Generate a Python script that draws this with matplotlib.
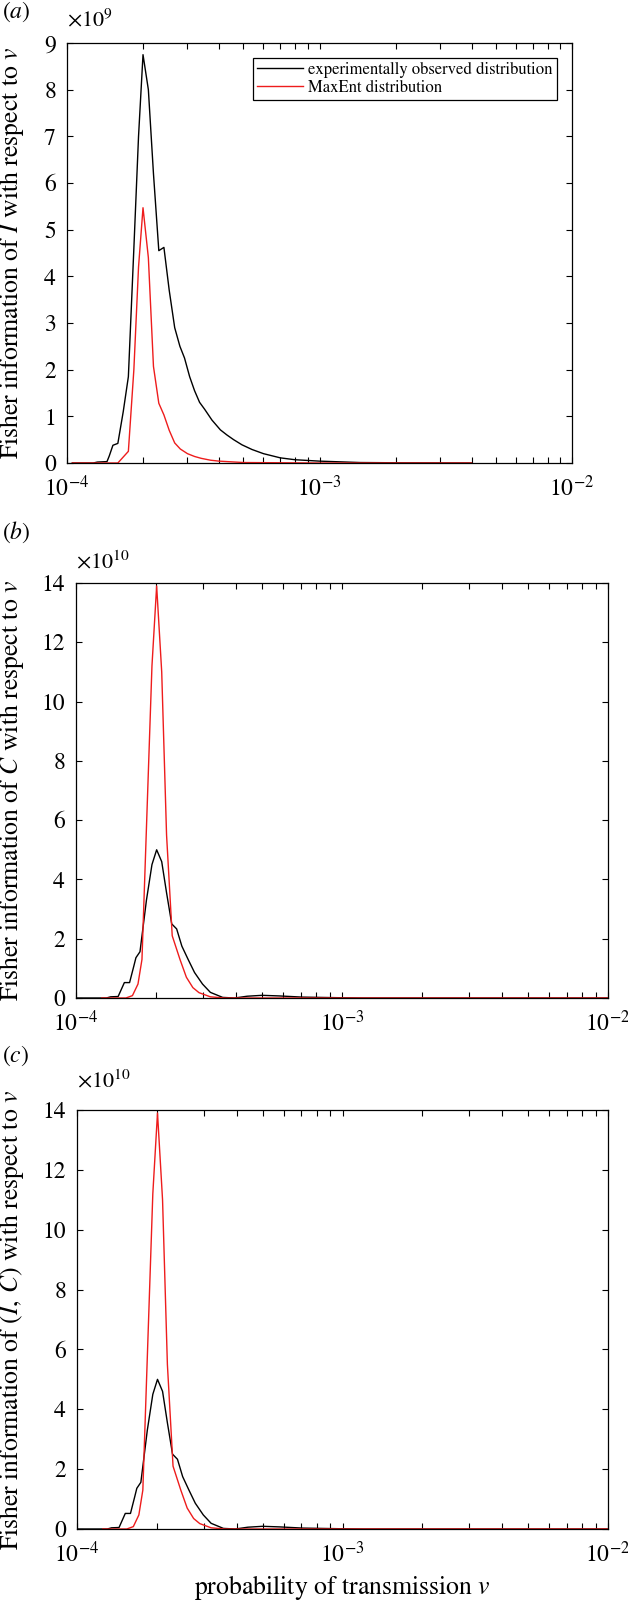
import numpy as np
import matplotlib
matplotlib.use("Agg")
import matplotlib.pyplot as plt
from matplotlib.ticker import LogLocator, LogFormatterMathtext, NullFormatter, MultipleLocator

plt.rcParams['font.family'] = ['STIXGeneral', 'DejaVu Serif']
plt.rcParams['mathtext.fontset'] = 'stix'

# ---------------- data ----------------
# v given in units of 1e-4 ; Fisher information in units of the axis multiplier
# Panel (a): Fisher information of I (x 1e9)
a_obs_v = [1.05, 1.27, 1.32, 1.44, 1.47, 1.52, 1.59, 1.67, 1.75, 1.84, 1.92, 2.0, 2.1, 2.2,
           2.31, 2.42, 2.54, 2.67, 2.8, 2.92, 3.06, 3.2, 3.35, 3.51, 3.75, 4.05, 4.3, 4.57,
           4.93, 5.4, 6.0, 7.0, 8.0, 10.0, 14.5, 20.0, 40.0]
a_obs_val = [0.0, 0.0, 0.02, 0.03, 0.15, 0.38, 0.42, 1.1, 1.85, 4.6, 7.0, 8.75, 8.0, 6.2,
             4.55, 4.62, 3.7, 2.9, 2.5, 2.25, 1.85, 1.55, 1.3, 1.15, 0.92, 0.71, 0.6, 0.5,
             0.39, 0.29, 0.2, 0.11, 0.07, 0.04, 0.01, 0.005, 0.0]
a_me_v = [1.05, 1.59, 1.75, 1.84, 1.92, 2.0, 2.1, 2.2, 2.31, 2.42, 2.54, 2.67, 2.81, 3.0,
          3.2, 3.4, 3.7, 4.0, 5.0, 10.0, 40.0]
a_me_val = [0.0, 0.0, 0.25, 2.0, 4.2, 5.47, 4.4, 2.07, 1.28, 1.03, 0.7, 0.43, 0.3, 0.2,
            0.14, 0.1, 0.06, 0.04, 0.01, 0.0, 0.0]

# Panel (b): Fisher information of C (x 1e10)
b_obs_v = [1.0, 1.3, 1.35, 1.44, 1.52, 1.59, 1.65, 1.68, 1.74, 1.84, 1.93, 2.01, 2.1, 2.19,
           2.29, 2.39, 2.5, 2.64, 2.79, 2.99, 3.2, 3.56, 3.95, 4.4, 5.0, 5.8, 7.1, 9.7, 12.0, 100.0]
b_obs_val = [0.0, 0.0, 0.04, 0.05, 0.52, 0.52, 1.08, 1.36, 1.56, 3.3, 4.5, 5.0, 4.6, 3.55,
             2.5, 2.33, 1.75, 1.3, 0.86, 0.47, 0.19, 0.02, 0.0, 0.06, 0.09, 0.07, 0.03, 0.01, 0.0, 0.0]
b_me_v = [1.25, 1.54, 1.63, 1.71, 1.77, 1.93, 2.01, 2.1, 2.19, 2.3, 2.46, 2.6, 2.75, 2.9,
          3.2, 3.6, 100.0]
b_me_val = [0.0, 0.0, 0.08, 0.47, 1.3, 11.2, 13.9, 11.0, 5.5, 2.1, 1.3, 0.7, 0.35, 0.18,
            0.04, 0.0, 0.0]

# Panel (c): Fisher information of (I, C) (x 1e10)
c_obs_v = [1.0, 1.3, 1.35, 1.44, 1.52, 1.59, 1.65, 1.68, 1.74, 1.84, 1.93, 2.01, 2.1, 2.19,
           2.29, 2.39, 2.5, 2.64, 2.79, 2.99, 3.2, 3.56, 3.95, 4.4, 5.0, 5.8, 7.1, 9.7, 12.0, 100.0]
c_obs_val = [0.0, 0.0, 0.04, 0.05, 0.52, 0.52, 1.08, 1.36, 1.56, 3.3, 4.5, 5.0, 4.6, 3.55,
             2.5, 2.33, 1.75, 1.3, 0.86, 0.47, 0.19, 0.02, 0.0, 0.06, 0.09, 0.07, 0.03, 0.01, 0.0, 0.0]
c_me_v = [1.25, 1.54, 1.63, 1.71, 1.77, 1.93, 2.01, 2.1, 2.19, 2.3, 2.46, 2.6, 2.75, 2.9,
          3.2, 3.6, 100.0]
c_me_val = [0.0, 0.0, 0.08, 0.47, 1.3, 11.2, 13.9, 11.0, 5.5, 2.1, 1.3, 0.7, 0.35, 0.18,
            0.04, 0.0, 0.0]

panel_tags = ['($a$)', '($b$)', '($c$)']
multipliers = [r'$\times10^{9}$', r'$\times10^{10}$', r'$\times10^{10}$']
ylabels = [r'Fisher information of $I$ with respect to $v$',
           r'Fisher information of $C$ with respect to $v$',
           r'Fisher information of $(I,\,C)$ with respect to $v$']
xlabel = r'probability of transmission $v$'
legend_labels = ['experimentally observed distribution', 'MaxEnt distribution']
ymax = [9, 14, 14]
ystep = [1, 2, 2]

# ---------------- layout ----------------
W, H = 628, 1601
fig = plt.figure(figsize=(W / 100, H / 100), dpi=100)

# axes boxes in pixels: left, right, top, bottom
boxes = [(67, 572, 43, 463), (76, 608, 583, 998), (77, 608, 1110, 1529)]
tag_y = [12, 532, 1056]
mult_y = [20, 562, 1081]
axes = []
for (l, r, t, b) in boxes:
    axes.append(fig.add_axes([l / W, (H - b) / H, (r - l) / W, (b - t) / H]))

data = [(a_obs_v, a_obs_val, a_me_v, a_me_val),
        (b_obs_v, b_obs_val, b_me_v, b_me_val),
        (c_obs_v, c_obs_val, c_me_v, c_me_val)]

red = '#ee1c1c'
for i, ax in enumerate(axes):
    ov, oy, mv, my = data[i]
    ax.plot(np.array(ov) * 1e-4, oy, color='black', lw=1.0, label=legend_labels[0])
    ax.plot(np.array(mv) * 1e-4, my, color=red, lw=1.0, label=legend_labels[1])
    ax.set_xscale('log')
    ax.set_xlim(1e-4, 1e-2)
    ax.set_ylim(0, ymax[i])
    ax.yaxis.set_major_locator(MultipleLocator(ystep[i]))
    ax.xaxis.set_major_locator(LogLocator(base=10, numticks=10))
    ax.xaxis.set_minor_locator(LogLocator(base=10, subs=np.arange(2, 10), numticks=20))
    ax.xaxis.set_major_formatter(LogFormatterMathtext())
    ax.xaxis.set_minor_formatter(NullFormatter())
    ax.tick_params(which='both', direction='in', top=True, right=True, width=0.8,
                   length=4, labelsize=17, color='black')
    ax.tick_params(axis='y', pad=8)
    ax.tick_params(axis='x', pad=9)
    for s in ax.spines.values():
        s.set_linewidth(0.9)
    l, r, t, b = boxes[i]
    fig.text(l / W, 1 - mult_y[i] / H, multipliers[i], ha='left', va='center', fontsize=16)
    ax.set_ylabel(ylabels[i], fontsize=18.5)
    ax.yaxis.set_label_coords((26 - l) / (r - l), 0.5)
    fig.text(2 / W, 1 - tag_y[i] / H, panel_tags[i], fontsize=17, ha='left', va='center')

axes[0].legend(loc='upper right', frameon=True, fancybox=False, edgecolor='black',
               framealpha=1, fontsize=12, handlelength=2.8, handletextpad=0.3,
               borderpad=0.25, labelspacing=0.1, borderaxespad=0.9).get_frame().set_linewidth(0.9)

axes[2].set_xlabel(xlabel, fontsize=18.5)
axes[2].xaxis.set_label_coords(0.5, -0.105)

fig.savefig('out.png', dpi=100)
